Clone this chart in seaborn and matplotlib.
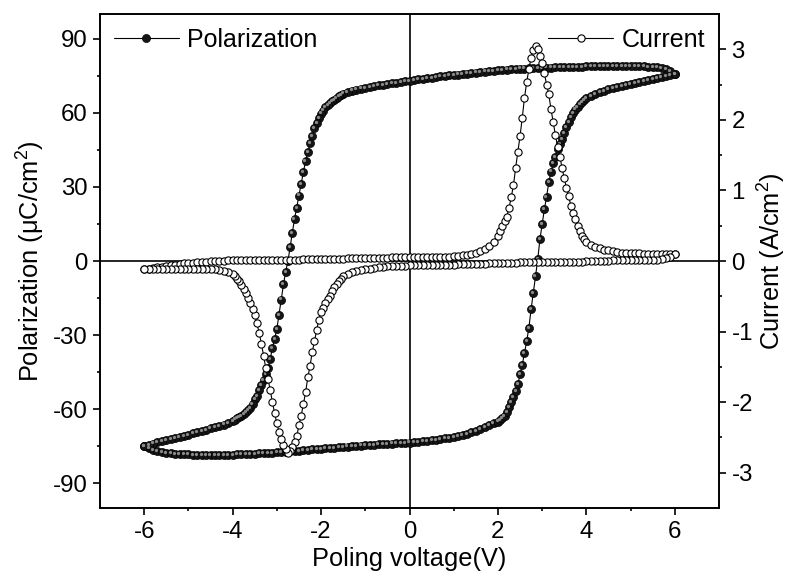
import matplotlib
matplotlib.use("Agg")
import matplotlib.pyplot as plt
import matplotlib.transforms as mtransforms
from matplotlib.ticker import FixedLocator
import seaborn as sns

# voltage sweep, increasing branch (-6 V -> +6 V)
v_up = [
    -6.0, -5.9, -5.8, -5.7, -5.6, -5.5, -5.4, -5.3, -5.2, -5.1,
    -5.0, -4.9, -4.8, -4.7, -4.6, -4.5, -4.4, -4.3, -4.2, -4.1,
    -4.0, -3.9, -3.8, -3.7, -3.6, -3.5, -3.4, -3.3, -3.2, -3.1,
    -3.0, -2.9, -2.8, -2.7, -2.6, -2.5, -2.4, -2.3, -2.2, -2.1,
    -2.0, -1.9, -1.8, -1.7, -1.6, -1.5, -1.4, -1.3, -1.2, -1.1,
    -1.0, -0.9, -0.8, -0.7, -0.6, -0.5, -0.4, -0.3, -0.2, -0.1,
    0.0, 0.1, 0.2, 0.3, 0.4, 0.5, 0.6, 0.7, 0.8, 0.9,
    1.0, 1.1, 1.2, 1.3, 1.4, 1.5, 1.6, 1.7, 1.8, 1.9,
    2.0, 2.05, 2.1, 2.15, 2.2, 2.25, 2.3, 2.35, 2.4, 2.45,
    2.5, 2.55, 2.6, 2.65, 2.7, 2.75, 2.8, 2.85, 2.9, 2.95,
    3.0, 3.05, 3.1, 3.15, 3.2, 3.25, 3.3, 3.35, 3.4, 3.45,
    3.5, 3.55, 3.6, 3.65, 3.7, 3.75, 3.8, 3.85, 3.9, 3.95,
    4.0, 4.1, 4.2, 4.3, 4.4, 4.5, 4.6, 4.7, 4.8, 4.9,
    5.0, 5.1, 5.2, 5.3, 5.4, 5.5, 5.6, 5.7, 5.8, 5.9,
    6.0]

p_up = [
    -75.0, -75.9, -76.5, -77.0, -77.3, -77.6, -77.8, -78.0, -78.1, -78.2,
    -78.3, -78.4, -78.4, -78.5, -78.5, -78.5, -78.5, -78.5, -78.5, -78.4,
    -78.4, -78.3, -78.3, -78.2, -78.1, -78.0, -77.9, -77.8, -77.7, -77.6,
    -77.5, -77.4, -77.2, -77.1, -76.9, -76.8, -76.6, -76.5, -76.3, -76.2,
    -76.0, -75.9, -75.7, -75.6, -75.4, -75.3, -75.1, -75.0, -74.9, -74.7,
    -74.6, -74.5, -74.4, -74.2, -74.1, -74.0, -73.9, -73.8, -73.7, -73.6,
    -73.5, -73.3, -73.2, -73.0, -72.8, -72.6, -72.4, -72.1, -71.8, -71.5,
    -71.2, -70.8, -70.4, -70.0, -69.4, -68.8, -68.1, -67.3, -66.4, -65.6,
    -65.0, -64.3, -63.6, -62.6, -61.0, -59.3, -57.2, -55.0, -52.8, -49.9,
    -45.9, -42.0, -37.3, -32.5, -27.0, -19.5, -13.0, -6.2, 0.7, 8.8,
    15.0, 20.9, 26.0, 31.8, 36.2, 39.5, 42.0, 45.2, 47.5, 49.3,
    51.8, 54.2, 56.3, 58.2, 59.8, 61.3, 62.5, 63.4, 64.3, 65.1,
    65.8, 66.8, 67.6, 68.3, 68.9, 69.5, 70.0, 70.4, 70.9, 71.3,
    71.8, 72.2, 72.6, 73.0, 73.4, 73.8, 74.2, 74.6, 75.0, 75.4,
    75.8]

i_up = [
    -0.12, -0.11, -0.10, -0.09, -0.08, -0.07, -0.06, -0.05, -0.04, -0.035,
    -0.03, -0.025, -0.02, -0.015, -0.01, -0.005, 0.0, 0.0, 0.005, 0.01,
    0.01, 0.01, 0.01, 0.01, 0.01, 0.01, 0.02, 0.02, 0.02, 0.02,
    0.02, 0.02, 0.02, 0.02, 0.02, 0.02, 0.03, 0.03, 0.03, 0.03,
    0.03, 0.03, 0.03, 0.03, 0.03, 0.03, 0.04, 0.04, 0.04, 0.04,
    0.04, 0.04, 0.04, 0.04, 0.04, 0.04, 0.05, 0.05, 0.05, 0.05,
    0.05, 0.05, 0.05, 0.05, 0.05, 0.06, 0.06, 0.06, 0.06, 0.06,
    0.07, 0.07, 0.08, 0.09, 0.10, 0.12, 0.14, 0.17, 0.21, 0.27,
    0.35, 0.42, 0.49, 0.56, 0.63, 0.75, 0.90, 1.07, 1.32, 1.55,
    1.77, 2.03, 2.31, 2.53, 2.72, 2.88, 2.99, 3.04, 3.00, 2.91,
    2.80, 2.66, 2.50, 2.36, 2.15, 1.97, 1.78, 1.62, 1.48, 1.32,
    1.17, 1.04, 0.92, 0.78, 0.68, 0.59, 0.49, 0.42, 0.36, 0.31,
    0.27, 0.23, 0.20, 0.18, 0.16, 0.15, 0.14, 0.13, 0.12, 0.12,
    0.11, 0.11, 0.11, 0.10, 0.10, 0.10, 0.10, 0.10, 0.10, 0.10,
    0.10]

# voltage sweep, decreasing branch (+6 V -> -6 V)
v_down = [
    6.0, 5.9, 5.8, 5.7, 5.6, 5.5, 5.4, 5.3, 5.2, 5.1,
    5.0, 4.9, 4.8, 4.7, 4.6, 4.5, 4.4, 4.3, 4.2, 4.1,
    4.0, 3.9, 3.8, 3.7, 3.6, 3.5, 3.4, 3.3, 3.2, 3.1,
    3.0, 2.9, 2.8, 2.7, 2.6, 2.5, 2.4, 2.3, 2.2, 2.1,
    2.0, 1.9, 1.8, 1.7, 1.6, 1.5, 1.4, 1.3, 1.2, 1.1,
    1.0, 0.9, 0.8, 0.7, 0.6, 0.5, 0.4, 0.3, 0.2, 0.1,
    0.0, -0.1, -0.2, -0.3, -0.4, -0.5, -0.6, -0.7, -0.8, -0.9,
    -1.0, -1.1, -1.2, -1.3, -1.4, -1.5, -1.55, -1.6, -1.65, -1.7,
    -1.75, -1.8, -1.85, -1.9, -1.95, -2.0, -2.05, -2.1, -2.15, -2.2,
    -2.25, -2.3, -2.35, -2.4, -2.45, -2.5, -2.55, -2.6, -2.65, -2.7,
    -2.75, -2.8, -2.85, -2.9, -2.95, -3.0, -3.05, -3.1, -3.15, -3.2,
    -3.25, -3.3, -3.35, -3.4, -3.45, -3.5, -3.55, -3.6, -3.65, -3.7,
    -3.75, -3.8, -3.85, -3.9, -3.95, -4.0, -4.1, -4.2, -4.3, -4.4,
    -4.5, -4.6, -4.7, -4.8, -4.9, -5.0, -5.1, -5.2, -5.3, -5.4,
    -5.5, -5.6, -5.7, -5.8, -5.9, -6.0]

p_down = [
    75.8, 76.9, 77.6, 78.1, 78.4, 78.6, 78.7, 78.8, 78.8, 78.9,
    78.9, 78.9, 78.9, 78.9, 78.9, 78.9, 78.9, 78.8, 78.8, 78.8,
    78.8, 78.7, 78.7, 78.6, 78.6, 78.5, 78.5, 78.4, 78.3, 78.3,
    78.2, 78.1, 78.1, 78.0, 77.9, 77.9, 77.8, 77.6, 77.5, 77.3,
    77.2, 77.0, 76.8, 76.7, 76.5, 76.3, 76.1, 75.9, 75.7, 75.5,
    75.3, 75.1, 74.9, 74.7, 74.4, 74.2, 74.0, 73.7, 73.5, 73.2,
    73.0, 72.7, 72.5, 72.2, 71.9, 71.7, 71.4, 71.1, 70.8, 70.5,
    70.2, 69.8, 69.4, 69.0, 68.5, 67.8, 67.2, 66.7, 66.0, 65.3,
    64.7, 64.0, 63.2, 62.2, 60.9, 59.7, 57.8, 56.0, 53.7, 50.6,
    47.8, 44.0, 40.5, 36.0, 31.2, 26.5, 21.5, 17.0, 11.5, 5.5,
    0.0, -4.3, -9.5, -15.6, -22.0, -27.5, -31.5, -35.2, -39.7, -43.4,
    -45.9, -48.2, -50.2, -52.2, -54.5, -56.0, -57.8, -59.5, -60.5, -61.3,
    -62.0, -62.6, -63.1, -63.7, -64.2, -64.7, -65.5, -66.2, -66.8, -67.3,
    -67.8, -68.3, -68.8, -69.3, -69.8, -70.3, -70.8, -71.2, -71.7, -72.1,
    -72.5, -73.0, -73.4, -73.9, -74.4, -75.0]

i_down = [
    0.10, 0.06, 0.04, 0.03, 0.02, 0.02, 0.01, 0.01, 0.01, 0.01,
    0.01, 0.01, 0.01, 0.01, 0.01, 0.0, 0.0, 0.0, 0.0, 0.0,
    0.0, -0.01, -0.01, -0.01, -0.01, -0.01, -0.01, -0.01, -0.02, -0.02,
    -0.02, -0.02, -0.02, -0.02, -0.02, -0.02, -0.03, -0.03, -0.03, -0.03,
    -0.03, -0.03, -0.03, -0.04, -0.04, -0.04, -0.04, -0.04, -0.04, -0.04,
    -0.05, -0.05, -0.05, -0.05, -0.05, -0.05, -0.06, -0.06, -0.06, -0.06,
    -0.06, -0.07, -0.07, -0.07, -0.07, -0.07, -0.08, -0.09, -0.10, -0.11,
    -0.12, -0.13, -0.14, -0.16, -0.18, -0.21, -0.25, -0.29, -0.33, -0.37,
    -0.42, -0.49, -0.54, -0.60, -0.66, -0.72, -0.83, -0.98, -1.14, -1.29,
    -1.49, -1.65, -1.86, -2.03, -2.19, -2.33, -2.48, -2.57, -2.64, -2.69,
    -2.72, -2.66, -2.60, -2.52, -2.42, -2.30, -2.16, -2.00, -1.83, -1.67,
    -1.52, -1.34, -1.17, -1.02, -0.88, -0.77, -0.68, -0.59, -0.52, -0.45,
    -0.39, -0.34, -0.29, -0.25, -0.21, -0.19, -0.16, -0.14, -0.13, -0.12,
    -0.12, -0.12, -0.12, -0.12, -0.12, -0.12, -0.12, -0.12, -0.12, -0.12,
    -0.12, -0.12, -0.12, -0.12, -0.12, -0.12]

x_ticks = [-6, -4, -2, 0, 2, 4, 6]
p_ticks = [-90, -60, -30, 0, 30, 60, 90]
i_ticks = [-3, -2, -1, 0, 1, 2, 3]

# full loops
v_loop = v_up + v_down
p_loop = p_up + p_down
i_loop = i_up + i_down

sns.set_style("ticks")
plt.rcParams["font.family"] = ["Liberation Sans", "DejaVu Sans"]
plt.rcParams["mathtext.fontset"] = "custom"
plt.rcParams["mathtext.rm"] = "Liberation Sans"
plt.rcParams["mathtext.it"] = "Liberation Sans:italic"
plt.rcParams["axes.unicode_minus"] = False
plt.rcParams["axes.linewidth"] = 1.2
for k in ("text.color", "axes.labelcolor", "xtick.color", "ytick.color", "axes.edgecolor"):
    plt.rcParams[k] = "black"

fig, ax = plt.subplots(figsize=(7.91, 5.83), dpi=100)
fig.subplots_adjust(left=0.1264, right=0.909, bottom=0.1286, top=0.976)

ax.axhline(0, color="black", lw=1.2, zorder=1)
ax.axvline(0, color="black", lw=1.2, zorder=1)

# polarization loop (black balls)
sns.lineplot(x=v_loop, y=p_loop, sort=False, estimator=None, ax=ax,
             color="black", lw=0.8, marker="o", markersize=5.8,
             markerfacecolor="#151515", markeredgecolor="black",
             markeredgewidth=0.5, label="Polarization", zorder=3)
# little highlight on the balls
shine = mtransforms.offset_copy(ax.transData, fig=fig, x=-1.1, y=1.1, units="dots")
ax.plot(v_loop, p_loop, ls="none", marker="o", markersize=1.3,
        color="#8a8a8a", transform=shine, zorder=4)

ax.set_xlim(-7, 7)
ax.set_ylim(-100, 100)
ax.set_xticks(x_ticks)
ax.set_yticks(p_ticks)
ax.xaxis.set_minor_locator(FixedLocator([-5, -3, -1, 1, 3, 5]))
ax.yaxis.set_minor_locator(FixedLocator([-75, -45, -15, 15, 45, 75]))
ax.tick_params(axis="both", which="major", direction="out", length=5, width=1.2,
               labelsize=17.3, pad=4, top=False, right=False)
ax.tick_params(axis="both", which="minor", direction="out", length=2.5, width=1.2,
               top=False, right=False)
ax.set_xlabel("Poling voltage(V)", fontsize=18.3, labelpad=3)
ax.set_ylabel("Polarization (μC/cm$^{2}$)", fontsize=18.3, labelpad=4)

ax.legend(loc="upper left", frameon=False, fontsize=18, handlelength=2.6,
          handletextpad=0.35, borderaxespad=0.35, borderpad=0.2)

# current loop (open circles) on right axis
ax2 = ax.twinx()
sns.lineplot(x=v_loop, y=i_loop, sort=False, estimator=None, ax=ax2,
             color="black", lw=0.8, marker="o", markersize=5.2,
             markerfacecolor="white", markeredgecolor="black",
             markeredgewidth=0.8, label="Current", zorder=3)
ax2.set_ylim(-3.5, 3.5)
ax2.set_yticks(i_ticks)
ax2.yaxis.set_minor_locator(FixedLocator([-2.5, -1.5, -0.5, 0.5, 1.5, 2.5]))
ax2.tick_params(axis="y", which="major", direction="out", length=5, width=1.2,
                labelsize=17.3, pad=4)
ax2.tick_params(axis="y", which="minor", direction="out", length=2.5, width=1.2)
ax2.set_ylabel("Current (A/cm$^{2}$)", fontsize=18.3, labelpad=2)
ax2.legend(loc="upper right", frameon=False, fontsize=18, handlelength=2.6,
           handletextpad=0.35, borderaxespad=0.35, borderpad=0.2)

for a in (ax, ax2):
    for s in a.spines.values():
        s.set_visible(True)
        s.set_linewidth(1.2)
        s.set_color("black")

fig.savefig("out.png", dpi=100)
